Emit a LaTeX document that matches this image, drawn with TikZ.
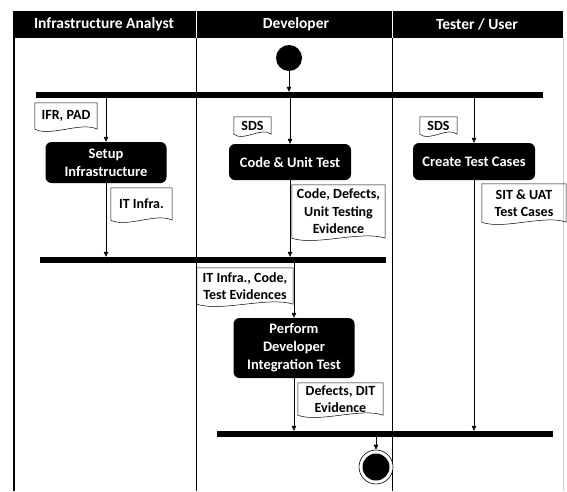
\documentclass[tikz,border=0pt]{standalone}
\usepackage{fontspec}
\setmainfont{Carlito}
\usetikzlibrary{positioning,calc,arrows.meta}

\tikzset{
  lane/.style={draw=black, line width=0.8pt},
  headtext/.style={text=white, font=\bfseries\fontsize{15.5}{17}\selectfont},
  actbox/.style={rectangle, rounded corners=6pt, fill=black, text=white, align=center,
    inner sep=0pt, font=\bfseries\fontsize{14.5}{18}\selectfont},
  syncbar/.style={rectangle, fill=black, inner sep=0pt, minimum height=6pt},
  docnote/.style={rectangle, inner sep=0pt, align=center,
    font=\bfseries\fontsize{14}{17.5}\selectfont},
  flow/.style={-{Triangle[length=5pt,width=4.5pt]}, line width=0.6pt},
}

% outline of a document symbol with a wavy lower edge
\newcommand{\docframe}[1]{%
  \draw[line width=0.5pt] (#1.south west) -- (#1.north west) -- (#1.north east) -- (#1.south east)
    .. controls ($(#1.south east)!0.5!(#1.south)+(0,-8)$) and ($(#1.south west)!0.5!(#1.south)+(0,8)$) .. (#1.south west);}

\begin{document}
\begin{tikzpicture}[x=1pt,y=-1pt]
    \useasboundingbox (0,0) rectangle (567,491);

    % Swimlane header
    \fill [black] (13,11) rectangle (563,38);
    \draw [white, line width=0.6pt] (196,11) -- (196,38);
    \draw [white, line width=0.6pt] (392,11) -- (392,38);
    \node [headtext] (hinfra) at (104,24.5) {Infrastructure Analyst};
    \node [headtext] (hdev) at (296,24.5) {Developer};
    \node [headtext] (htest) at (477,24.5) {Tester / User};

    % Lanes
    \draw [line width=1.5pt] (14,38) -- (14,491);
    \draw [lane] (196,38) -- (196,491);
    \draw [lane] (392,38) -- (392,491);
    \draw [black!20, line width=0.5pt] (563,38) -- (563,491);

    % Start and fork
    \node [circle, fill=black, minimum size=26pt, inner sep=0pt] (start) at (289,58) {};
    \node [syncbar, minimum width=507pt] (bar1) at (289.5,95) {};
    \draw [flow] (start) -- (start |- bar1.north);

    % Activities
    \node [actbox, minimum width=121pt, minimum height=41pt] (setup) at (106,162.5) {Setup\\Infrastructure};
    \node [actbox, minimum width=122pt, minimum height=36pt] (code) at (290,162) {Code \& Unit Test};
    \node [actbox, minimum width=122pt, minimum height=37pt] (create) at (474,161.5) {Create Test Cases};
    \node [actbox, minimum width=121pt, minimum height=60pt] (perform) at (294,348) {Perform\\Developer\\Integration Test};

    % Joins
    \node [syncbar, minimum width=346pt] (bar2) at (213,260) {};
    \node [syncbar, minimum width=336pt] (bar3) at (385,434) {};

    % End
    \node [circle, draw=black, line width=0.6pt, fill=white, minimum size=34pt, inner sep=0pt] (final) at (376,467) {};
    \node [circle, fill=black, minimum size=27pt, inner sep=0pt] (finaldot) at (final) {};

    % Documents
    \node [docnote, minimum width=62pt, minimum height=26pt] (ifr) at (66,116) {IFR, PAD};
    \node [docnote, minimum width=37pt, minimum height=17pt] (sdsa) at (252.5,125.5) {SDS};
    \node [docnote, minimum width=37pt, minimum height=17pt] (sdsb) at (438.5,125.5) {SDS};
    \node [docnote, minimum width=61pt, minimum height=32pt] (itinfra) at (141.5,204) {IT Infra.};
    \node [docnote, minimum width=93pt, minimum height=53pt] (codedef) at (338.5,211.5) {Code, Defects,\\Unit Testing\\Evidence};
    \node [docnote, minimum width=84pt, minimum height=38pt] (situat) at (524,203) {SIT \& UAT\\Test Cases};
    \node [docnote, minimum width=96pt, minimum height=36pt] (itcode) at (245,286) {IT Infra., Code,\\Test Evidences};
    \node [docnote, minimum width=85pt, minimum height=32pt] (defdit) at (340.5,399) {Defects, DIT\\Evidence};
    \foreach \d in {ifr,sdsa,sdsb,itinfra,codedef,situat,itcode,defdit}
        \docframe{\d};

    % Flows
    \draw [flow] (bar1.south -| setup.north) -- (setup.north);
    \draw [flow] (bar1.south -| code.north) -- (code.north);
    \draw [flow] (bar1.south -| create.north) -- (create.north);
    \draw [flow] (setup.south) -- (setup.south |- bar2.north);
    \draw [flow] (code.south) -- (code.south |- bar2.north);
    \draw [flow] (bar2.south -| perform.north) -- (perform.north);
    \draw [flow] (perform.south) -- (perform.south |- bar3.north);
    \draw [flow] (create.south) -- (create.south |- bar3.north);
    \draw [flow] (bar3.south -| final.north) -- (final.north);
\end{tikzpicture}
\end{document}
